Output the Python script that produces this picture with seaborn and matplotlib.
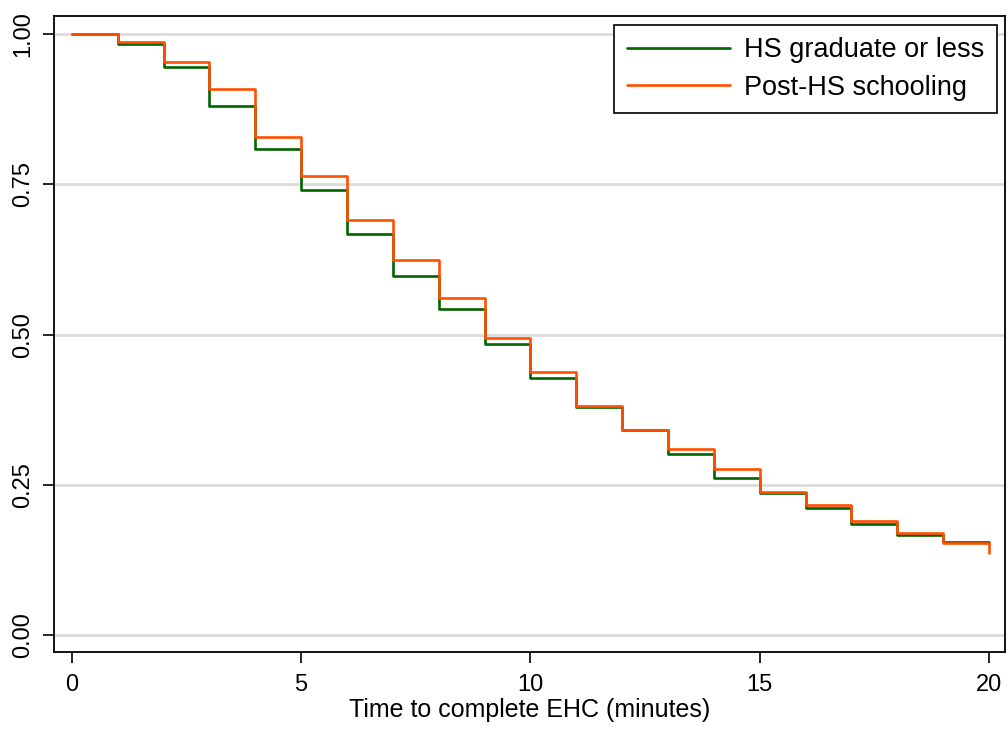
import matplotlib
matplotlib.use("Agg")
import matplotlib.pyplot as plt
import seaborn as sns
import pandas as pd

# survival estimates (step at each minute)
minutes = list(range(0, 21))
hs_or_less = [1.000, 0.983, 0.946, 0.881, 0.809, 0.741, 0.668, 0.598, 0.542, 0.485,
              0.427, 0.379, 0.341, 0.302, 0.261, 0.236, 0.212, 0.184, 0.167, 0.155, 0.155]
post_hs = [1.000, 0.987, 0.954, 0.909, 0.829, 0.764, 0.690, 0.624, 0.561, 0.494,
           0.437, 0.381, 0.341, 0.309, 0.277, 0.238, 0.217, 0.189, 0.170, 0.154, 0.136]
group_names = ["HS graduate or less", "Post-HS schooling"]
group_colors = ["#006400", "#ff4f00"]

x_ticks = [0, 5, 10, 15, 20]
y_ticks = [0.0, 0.25, 0.5, 0.75, 1.0]
y_ticklabels = ["0.00", "0.25", "0.50", "0.75", "1.00"]

df = pd.DataFrame({
    "minutes": minutes * 2,
    "surv": hs_or_less + post_hs,
    "group": [group_names[0]] * len(minutes) + [group_names[1]] * len(minutes),
})

sns.set_style("white")
plt.rcParams["font.family"] = ["Liberation Sans", "DejaVu Sans"]
plt.rcParams["text.color"] = "black"
plt.rcParams["axes.labelcolor"] = "black"
plt.rcParams["xtick.color"] = "black"
plt.rcParams["ytick.color"] = "black"

fig = plt.figure(figsize=(10.08, 7.3), dpi=100)
ax = fig.add_axes([0.0536, 0.107, 0.9434, 0.871])

for y in y_ticks:
    ax.axhline(y, color="#dcdcdc", lw=2, zorder=0)

sns.lineplot(data=df, x="minutes", y="surv", hue="group", hue_order=group_names,
             palette=group_colors, drawstyle="steps-post", linewidth=1.9,
             estimator=None, ax=ax)

ax.set_xlim(-0.39, 20.35)
ax.set_ylim(-0.028, 1.03)
ax.set_xticks(x_ticks)
ax.set_xticklabels([str(t) for t in x_ticks], fontsize=17)
ax.set_yticks(y_ticks)
ax.set_yticklabels(y_ticklabels, rotation=90, va="center", fontsize=17)
ax.tick_params(axis="both", direction="out", length=8, width=1.2, color="black",
               left=True, bottom=True)
ax.tick_params(axis="x", pad=8)
ax.tick_params(axis="y", pad=6)
ax.set_xlabel("Time to complete EHC (minutes)", fontsize=18, labelpad=1)
ax.set_ylabel("")
for s in ax.spines.values():
    s.set_color("black")
    s.set_linewidth(1.3)

leg = ax.legend(loc="upper right", fontsize=19.5, frameon=True, fancybox=False,
                edgecolor="black", framealpha=1, handlelength=3.8, handletextpad=0.55,
                borderpad=0.45, labelspacing=0.42, borderaxespad=0.0,
                bbox_to_anchor=(0.9915, 0.986))
leg.get_frame().set_linewidth(1.2)
for line in leg.get_lines():
    line.set_linewidth(1.9)

fig.savefig("out.png", dpi=100)
